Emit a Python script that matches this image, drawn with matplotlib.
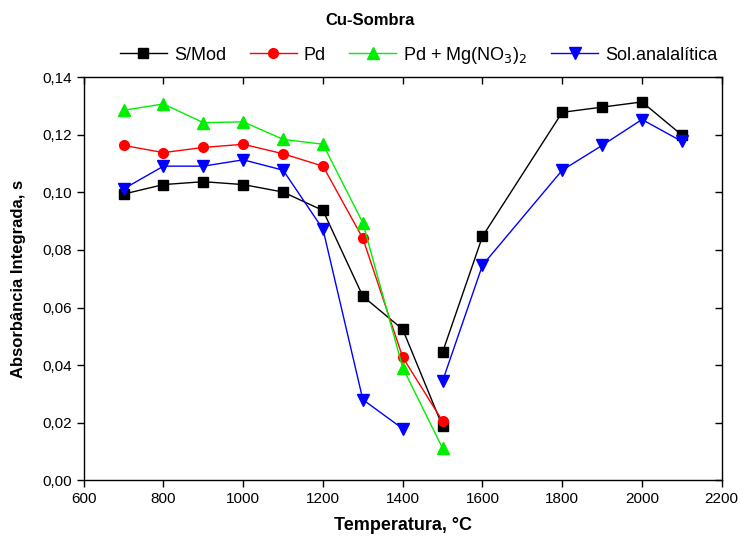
import numpy as np
import matplotlib.pyplot as plt
from matplotlib.ticker import FuncFormatter, MultipleLocator

plt.rcParams['font.family'] = ['Liberation Sans', 'DejaVu Sans']

# S/Mod and Sol.analalitica have a break at 1500 (two points there)
temp_smod = [700, 800, 900, 1000, 1100, 1200, 1300, 1400, 1500, np.nan, 1500, 1600, 1800, 1900, 2000, 2100]
smod = [0.0994, 0.1027, 0.1037, 0.1027, 0.1001, 0.0937, 0.0639, 0.0524, 0.0187, np.nan,
        0.0445, 0.0847, 0.1278, 0.1296, 0.1314, 0.1199]

temp_pd = [700, 800, 900, 1000, 1100, 1200, 1300, 1400, 1500]
pd_vals = [0.1163, 0.1138, 0.1156, 0.1167, 0.1134, 0.1091, 0.0840, 0.0427, 0.0205]
pd_mg = [0.1285, 0.1307, 0.1242, 0.1245, 0.1184, 0.1167, 0.0894, 0.0391, 0.0111]

temp_sol = [700, 800, 900, 1000, 1100, 1200, 1300, 1400, np.nan, 1500, 1600, 1800, 1900, 2000, 2100]
sol = [0.1012, 0.1091, 0.1091, 0.1113, 0.1077, 0.0872, 0.0280, 0.0179, np.nan,
       0.0345, 0.0747, 0.1077, 0.1163, 0.1253, 0.1177]

fig = plt.figure(figsize=(7.41, 5.36), dpi=100)
ax = fig.add_axes([0.113, 0.104, 0.861, 0.752])

ax.plot(temp_smod, smod, color='black', marker='s', ms=7, lw=1, label='S/Mod')
ax.plot(temp_pd, pd_vals, color='red', marker='o', ms=7, lw=1, label='Pd')
ax.plot(temp_pd, pd_mg, color='#00ee00', marker='^', ms=8, lw=1, label='Pd + Mg(NO$_3$)$_2$')
ax.plot(temp_sol, sol, color='blue', marker='v', ms=8, lw=1, label='Sol.analalítica')

ax.set_xlim(600, 2200)
ax.set_ylim(0, 0.14)
ax.xaxis.set_major_locator(MultipleLocator(200))
ax.yaxis.set_major_locator(MultipleLocator(0.02))
ax.yaxis.set_major_formatter(FuncFormatter(lambda v, p: f'{v:.2f}'.replace('.', ',')))
ax.tick_params(axis='both', labelsize=11, direction='out', length=5, width=1)
ax.tick_params(top=True, right=True)
for t in ax.xaxis.get_ticklines()[1::2]:
    t.set_marker(3)
for t in ax.yaxis.get_ticklines()[1::2]:
    t.set_marker(0)
for s in ax.spines.values():
    s.set_linewidth(1)

ax.set_xlabel('Temperatura, °C', fontsize=13, fontweight='bold', labelpad=8)
ax.set_ylabel('Absorbância Integrada, s', fontsize=12, fontweight='bold', labelpad=12)

fig.text(0.5, 0.962, 'Cu-Sombra', ha='center', va='center', fontsize=12, fontweight='bold')
fig.legend(loc='center', bbox_to_anchor=(0.565, 0.897), ncol=4, frameon=False, fontsize=13,
           handlelength=2.6, columnspacing=1.3, handletextpad=0.4, borderaxespad=0)

fig.savefig('out.png', dpi=100)
